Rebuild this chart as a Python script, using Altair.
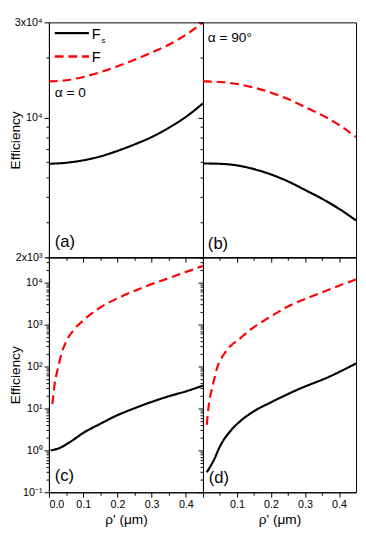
import altair as alt
import pandas as pd

FONT = "Liberation Sans"

# ---------- data ----------
# panel (a): alpha = 0, top row
a_rho = [0.0, 0.05, 0.1, 0.15, 0.2, 0.25, 0.3, 0.35, 0.4, 0.45]
a_fs = [5880, 5950, 6120, 6400, 6820, 7350, 8000, 8900, 10100, 11800]
a_f = [15200, 15400, 16000, 16900, 18100, 19500, 21200, 23200, 26000, 30000]

# panel (b): alpha = 90 deg, top row
b_rho = [0.0, 0.05, 0.1, 0.15, 0.2, 0.25, 0.3, 0.35, 0.4, 0.45]
b_fs = [5900, 5880, 5770, 5530, 5200, 4800, 4350, 3930, 3500, 3060]
b_f = [15200, 15100, 14750, 14150, 13350, 12400, 11300, 10300, 9200, 8000]

# panel (c): bottom row, left
c_fs_rho = [0.005, 0.03, 0.06, 0.1, 0.15, 0.2, 0.25, 0.3, 0.35, 0.4, 0.45]
c_fs = [1.0, 1.13, 1.55, 2.6, 4.3, 6.9, 10.1, 14.3, 19.5, 25.5, 35]
c_f_rho = [0.01, 0.017, 0.027, 0.036, 0.05, 0.075, 0.1, 0.15, 0.2, 0.275, 0.35, 0.45]
c_f = [12.7, 40, 95, 193, 389, 784, 1250, 2550, 4200, 7700, 12800, 25000]

# panel (d): bottom row, right
d_fs_rho = [0.011, 0.032, 0.051, 0.08, 0.108, 0.146, 0.203, 0.278, 0.373, 0.45]
d_fs = [0.30, 0.59, 1.3, 2.86, 4.85, 8.2, 14.4, 28, 58, 118]
d_f_rho = [0.011, 0.018, 0.028, 0.042, 0.061, 0.084, 0.103, 0.136, 0.193, 0.25, 0.326, 0.45]
d_f = [4.05, 13.9, 33, 95, 193, 327, 425, 720, 1450, 2700, 4900, 12000]

series = ["Fs", "F"]
series_colors = ["black", "red"]

# tick positions / labels
x_ticks = [0.0, 0.05, 0.1, 0.15, 0.2, 0.25, 0.3, 0.35, 0.4]
top_ticks = [2000, 3000, 4000, 5000, 6000, 7000, 8000, 9000, 10000, 20000, 30000]
top_labels = {2000: "2x10³", 10000: "10⁴", 30000: "3x10⁴"}
bot_ticks = [float(f"{m}e{k}") for k in range(-1, 5) for m in range(1, 10)
             if float(f"{m}e{k}") <= 40000]
bot_labels = ["10⁻¹", "10⁰", "10¹", "10²", "10³", "10⁴"]

W_L, W_R, H = 158, 157, 241


def make_df(rs, vs, rf, vf):
    return pd.DataFrame({
        "rho": list(rs) + list(rf),
        "v": list(vs) + list(vf),
        "s": ["Fs"] * len(rs) + ["F"] * len(rf),
    })


MAJ_X = "abs(datum.value*10 - round(datum.value*10)) < 0.001"


def x_axis(show_labels, hide_zero=False):
    kw = dict(values=x_ticks, grid=False,
              tickSize={"condition": {"test": MAJ_X, "value": 5}, "value": 3})
    if show_labels:
        cond = MAJ_X + (" && datum.value > 0.01" if hide_zero else "")
        kw.update(labelExpr=f"({cond}) ? format(datum.value, '.1f') : ''",
                  title="ρ' (μm)", titlePadding=3, labelPadding=2)
    else:
        kw.update(labels=False, title="")
    return alt.Axis(**kw)


def top_y_axis(show):
    test = " || ".join(f"datum.value == {k}" for k in top_labels)
    expr = " : ".join(f"datum.value == {k} ? '{v}'" for k, v in top_labels.items()) + " : ''"
    kw = dict(values=top_ticks, grid=False,
              tickSize={"condition": {"test": test, "value": 5}, "value": 3})
    if show:
        kw.update(labelExpr=expr, title="Efficiency", titleX=-27, titleY=H / 2,
                  labelPadding=2)
    else:
        kw.update(labels=False, title="")
    return alt.Axis(**kw)


MAJ_LOG = "abs(log(datum.value)/LN10 - round(log(datum.value)/LN10)) < 0.001"


def bot_y_axis(show):
    kw = dict(values=bot_ticks, grid=False,
              tickSize={"condition": {"test": MAJ_LOG, "value": 5}, "value": 3})
    if show:
        arr = "[" + ",".join(f"'{s}'" for s in bot_labels) + "]"
        kw.update(labelExpr=f"({MAJ_LOG}) ? {arr}[round(log(datum.value)/LN10)+1] : ''",
                  title="Efficiency", titleX=-27, titleY=H / 2, labelPadding=2)
    else:
        kw.update(labels=False, title="")
    return alt.Axis(**kw)


def text_layer(txt, x, y, size, baseline="middle"):
    return alt.Chart(pd.DataFrame({"t": [txt]})).mark_text(
        align="left", baseline=baseline, font=FONT, fontSize=size, color="black"
    ).encode(text="t:N", x=alt.value(x), y=alt.value(y))


def panel(df, width, xax, yax, ydomain, extra):
    lines = alt.Chart(df).mark_line(clip=True, strokeWidth=2.2, interpolate="monotone").encode(
        x=alt.X("rho:Q", scale=alt.Scale(domain=[0, 0.45], nice=False, zero=False), axis=xax),
        y=alt.Y("v:Q", scale=alt.Scale(type="log", domain=ydomain, nice=False), axis=yax),
        color=alt.Color("s:N", scale=alt.Scale(domain=series, range=series_colors), legend=None),
        strokeDash=alt.StrokeDash("s:N", scale=alt.Scale(domain=series, range=[[1, 0], [9, 5]]),
                                  legend=None),
        detail="s:N",
    )
    return alt.layer(lines, *extra).properties(width=width, height=H)


one = pd.DataFrame({"k": [0]})
legend_layers = [
    alt.Chart(one).mark_rule(color="black", strokeWidth=2.4).encode(
        x=alt.value(6), x2=alt.value(41), y=alt.value(11)),
    alt.Chart(one).mark_rule(color="red", strokeWidth=2.4, strokeDash=[9, 5]).encode(
        x=alt.value(6), x2=alt.value(41), y=alt.value(35)),
    text_layer("F", 44, 12, 15),
    text_layer("s", 54, 19, 8),
    text_layer("F", 44, 36, 15),
]

pa = panel(make_df(a_rho, a_fs, a_rho, a_f), W_L, x_axis(False), top_y_axis(True), [2000, 30000],
           legend_layers + [text_layer("α = 0", 6, 73, 14), text_layer("(a)", 6, H - 16, 17)])
pb = panel(make_df(b_rho, b_fs, b_rho, b_f), W_R, x_axis(False), top_y_axis(False), [2000, 30000],
           [text_layer("α = 90°", 5, 16, 14), text_layer("(b)", 5, H - 14, 17)])
pc = panel(make_df(c_fs_rho, c_fs, c_f_rho, c_f), W_L, x_axis(True), bot_y_axis(True), [0.1, 40000],
           [text_layer("(c)", 6, H - 17, 17)])
pd_ = panel(make_df(d_fs_rho, d_fs, d_f_rho, d_f), W_R, x_axis(True, hide_zero=True), bot_y_axis(False),
            [0.1, 40000], [text_layer("(d)", 6, H - 15, 17)])

chart = alt.concat(
    pa, pb, pc, pd_, columns=2, spacing=0, bounds="flush",
).properties(
    padding={"left": 0, "top": 1, "right": 1, "bottom": 0},
    background="white",
).configure_view(
    stroke="black", strokeWidth=1
).configure_axis(
    labelFont=FONT, labelFontSize=11, labelColor="black",
    titleFont=FONT, titleFontSize=14, titleFontWeight="normal", titleColor="black",
    tickColor="black", domainColor="black", tickWidth=1, domainWidth=1,
)

chart.save("out.html", embed_options={"renderer": "svg", "actions": False})
